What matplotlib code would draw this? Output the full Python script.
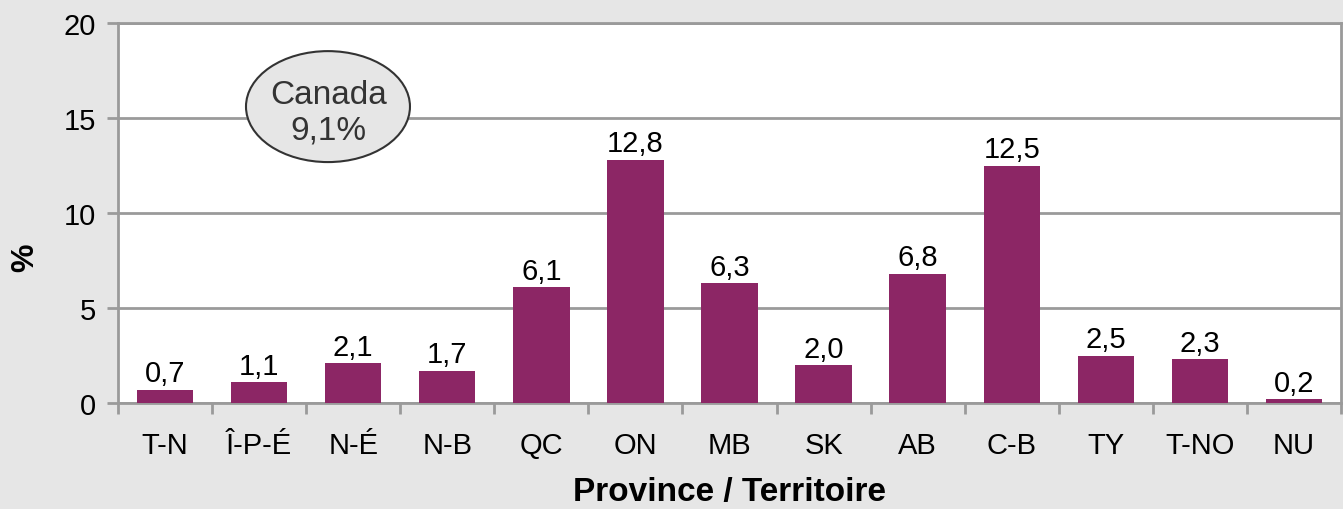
import matplotlib
matplotlib.use("Agg")
import matplotlib.pyplot as plt
from matplotlib.patches import Ellipse

categories = ["T-N", "Î-P-É", "N-É", "N-B", "QC", "ON", "MB", "SK", "AB", "C-B", "TY", "T-NO", "NU"]
values = [0.7, 1.1, 2.1, 1.7, 6.1, 12.8, 6.3, 2.0, 6.8, 12.5, 2.5, 2.3, 0.2]
value_labels = ["0,7", "1,1", "2,1", "1,7", "6,1", "12,8", "6,3", "2,0", "6,8", "12,5", "2,5", "2,3", "0,2"]
yticks = [0, 5, 10, 15, 20]
canada_label = "Canada\n9,1%"

plt.rcParams['font.family'] = ['Liberation Sans', 'DejaVu Sans']

bg = "#e6e6e6"
bar_color = "#8c2665"
grid_color = "#9a9a9a"

fig = plt.figure(figsize=(13.43, 5.10), dpi=100, facecolor=bg)
ax = fig.add_axes([118/1343, 1 - 404/510, (1341-118)/1343, (404-24)/510])
ax.set_facecolor("white")

x = list(range(len(categories)))
ax.bar(x, values, width=0.6, color=bar_color, zorder=3)
for xi, v, lab in zip(x, values, value_labels):
    ax.annotate(lab, (xi, v), xytext=(0, 6), textcoords="offset points",
                ha="center", va="baseline", fontsize=21, color="black", zorder=4)

ax.set_xlim(-0.5, len(categories) - 0.5)
ax.set_ylim(0, 20)
ax.set_yticks(yticks)
ax.set_yticklabels([str(t) for t in yticks], fontsize=21)
ax.yaxis.grid(True, color=grid_color, linewidth=2, zorder=0)
ax.set_axisbelow(True)

ax.set_xticks(x)
ax.set_xticklabels(categories, fontsize=21)
ax.tick_params(axis="x", length=0, pad=20)
ax.set_xticks([i + 0.5 for i in range(-1, len(categories))], minor=True)
ax.tick_params(axis="x", which="minor", length=8, width=2, color=grid_color, direction="out")
ax.tick_params(axis="y", length=8, width=2, color=grid_color, direction="out", pad=8)

for s in ["left", "bottom", "right", "top"]:
    ax.spines[s].set_color(grid_color)
    ax.spines[s].set_linewidth(2)

fig.text(25/1343, 1 - 258/510, "%", rotation=90, ha="center", va="center",
         fontsize=23, fontweight="bold")
fig.text((118 + 1341) / 2 / 1343, 1 - 493/510, "Province / Territoire", ha="center", va="center",
         fontsize=24, fontweight="bold")

ell = Ellipse((1.732, 15.6), width=1.743, height=5.84, facecolor=bg, edgecolor="#333333",
              linewidth=1.5, zorder=5)
ax.add_patch(ell)
ax.text(1.74, 15.3, canada_label, ha="center", va="center", fontsize=24, color="#333333",
        zorder=6, linespacing=1.15)

fig.savefig("out.png", dpi=100, facecolor=bg)
